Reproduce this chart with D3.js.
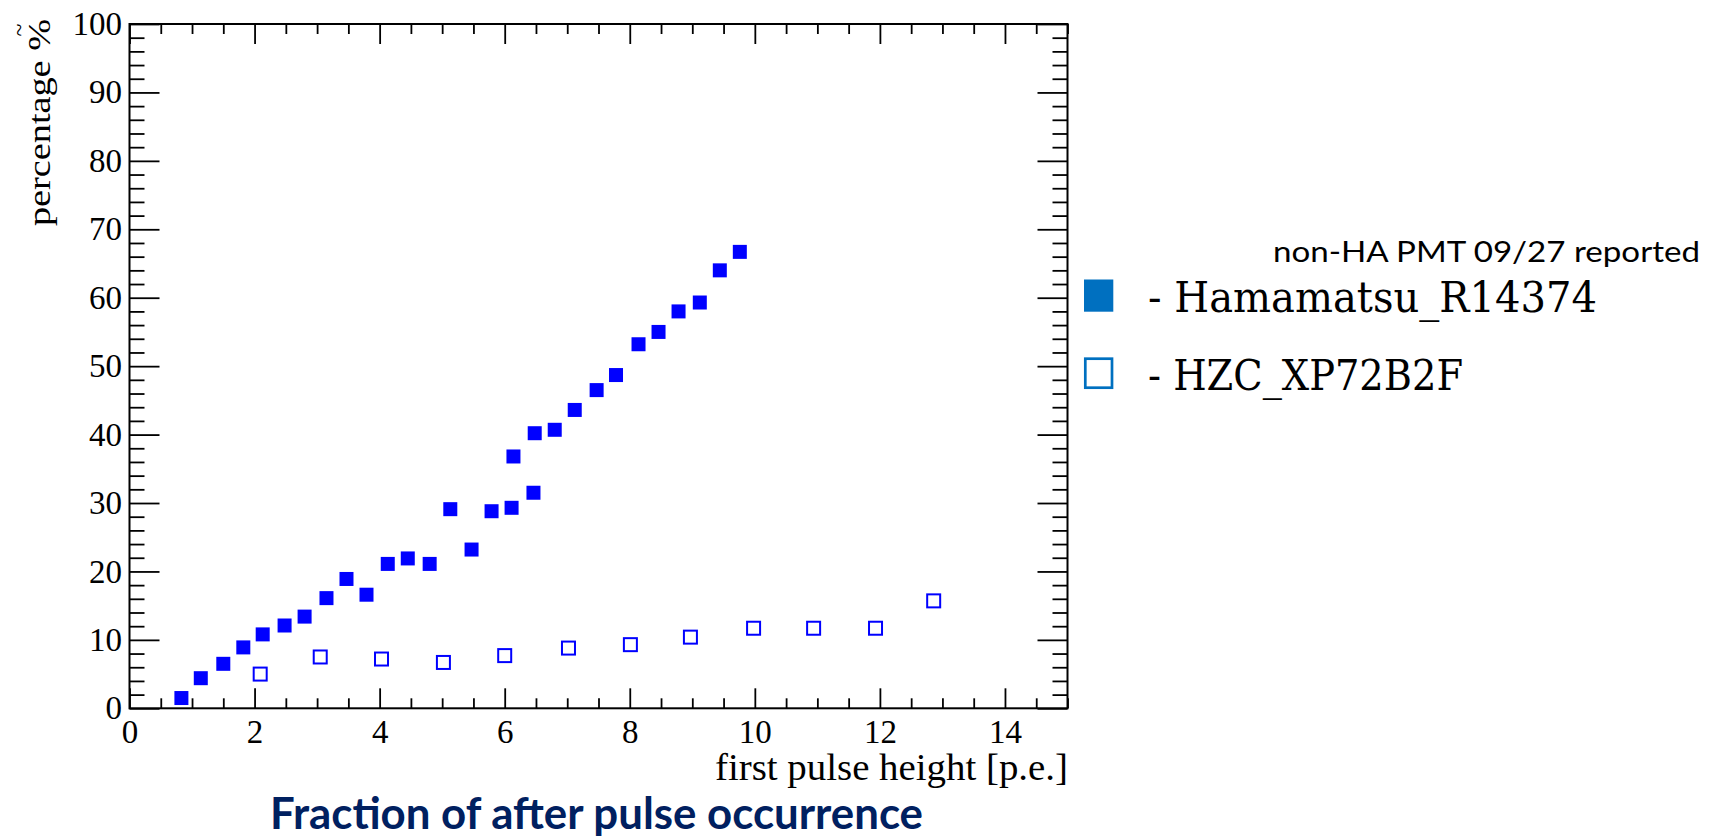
<!DOCTYPE html>
<html>
<head>
<meta charset="utf-8">
<script src="https://cdn.jsdelivr.net/npm/d3@7"></script>
<style>
  html, body { margin: 0; padding: 0; background: #ffffff; }
  svg { display: block; }
</style>
</head>
<body>
<svg id="chart" width="1712" height="839"></svg>
<script>
// ---------------- data ----------------
const hamamatsuX = [0.83,1.14,1.50,1.82,2.13,2.48,2.80,3.15,3.47,3.79,4.13,4.45,4.80,5.13,5.47,5.79,6.11,6.14,6.46,6.48,6.80,7.12,7.47,7.78,8.14,8.46,8.78,9.12,9.44,9.76];
const hamamatsuY = [1.5,4.4,6.5,8.9,10.8,12.1,13.4,16.1,18.9,16.6,21.1,21.9,21.1,29.1,23.2,28.8,29.3,36.8,31.5,40.2,40.7,43.6,46.5,48.7,53.2,55.0,58.0,59.3,64.0,66.7];
const hzcX = [2.09,3.05,4.03,5.02,6.00,7.02,8.01,8.97,9.98,10.94,11.93,12.86];
const hzcY = [5.0,7.5,7.2,6.7,7.7,8.8,9.3,10.4,11.7,11.7,11.7,15.7];

const xMajorTicks = [0,2,4,6,8,10,12,14];
const yMajorTicks = [0,10,20,30,40,50,60,70,80,90,100];
const xDomain = [0,15];
const yDomain = [0,100];

const seriesNames = ["- Hamamatsu_R14374", "- HZC_XP72B2F"];
const noteText = "non-HA PMT 09/27 reported";
const xTitle = "first pulse height [p.e.]";
const yTitle = "percentage %";
const yTitleAccent = "~";
const bottomTitle = "Fraction of after pulse occurrence";

// ---------------- layout ----------------
const svg = d3.select("#chart");
const plotL = 129.5, plotR = 1067.5, plotT = 24, plotB = 708.3;
const x = d3.scaleLinear().domain(xDomain).range([plotL, plotR]);
const y = d3.scaleLinear().domain(yDomain).range([plotB, plotT]);

const serif = "'Liberation Serif', 'Times New Roman', serif";
const ink = "#000";

// minor tick values (every 0.5 on x, every 2 on y)
const xMinor = d3.range(0, 15.001, 0.5).filter(v => Math.abs(v % 2) > 1e-6);
const yMinor = d3.range(0, 100.001, 2).filter(v => Math.abs(v % 10) > 1e-6);

function styleAxis(g) {
  g.select(".domain").remove();
  g.selectAll(".tick line").attr("stroke", ink).attr("stroke-width", 1.8);
  g.selectAll(".tick text").attr("fill", ink).style("font-family", serif).style("font-size", "33px");
}

// bottom axis (inward ticks)
svg.append("g").attr("transform", `translate(0,${plotB})`)
  .call(d3.axisBottom(x).tickValues(xMajorTicks).tickSize(-20).tickPadding(11).tickFormat(d3.format("d")))
  .call(styleAxis);
svg.append("g").attr("transform", `translate(0,${plotB})`)
  .call(d3.axisBottom(x).tickValues(xMinor).tickSize(-10).tickFormat(""))
  .call(styleAxis);
// top axis
svg.append("g").attr("transform", `translate(0,${plotT})`)
  .call(d3.axisTop(x).tickValues(xMajorTicks).tickSize(-20).tickFormat(""))
  .call(styleAxis);
svg.append("g").attr("transform", `translate(0,${plotT})`)
  .call(d3.axisTop(x).tickValues(xMinor).tickSize(-10).tickFormat(""))
  .call(styleAxis);
// left axis
svg.append("g").attr("transform", `translate(${plotL},0)`)
  .call(d3.axisLeft(y).tickValues(yMajorTicks).tickSize(-30).tickPadding(7.5).tickFormat(d3.format("d")))
  .call(styleAxis);
svg.append("g").attr("transform", `translate(${plotL},0)`)
  .call(d3.axisLeft(y).tickValues(yMinor).tickSize(-15).tickFormat(""))
  .call(styleAxis);
// right axis
svg.append("g").attr("transform", `translate(${plotR},0)`)
  .call(d3.axisRight(y).tickValues(yMajorTicks).tickSize(-30).tickFormat(""))
  .call(styleAxis);
svg.append("g").attr("transform", `translate(${plotR},0)`)
  .call(d3.axisRight(y).tickValues(yMinor).tickSize(-15).tickFormat(""))
  .call(styleAxis);

// frame
svg.append("rect")
  .attr("x", plotL).attr("y", plotT)
  .attr("width", plotR - plotL).attr("height", plotB - plotT)
  .attr("fill", "none").attr("stroke", ink).attr("stroke-width", 2);

// ---------------- markers ----------------
const hamData = hamamatsuX.map((v, i) => ({x: v, y: hamamatsuY[i]}));
const hzcData = hzcX.map((v, i) => ({x: v, y: hzcY[i]}));
const fs = 14;
svg.append("g").selectAll("rect").data(hamData).join("rect")
  .attr("x", d => x(d.x) - fs / 2).attr("y", d => y(d.y) - fs / 2)
  .attr("width", fs).attr("height", fs)
  .attr("fill", "#0000ff");
const hs = 13;
svg.append("g").selectAll("rect").data(hzcData).join("rect")
  .attr("x", d => x(d.x) - hs / 2).attr("y", d => y(d.y) - hs / 2)
  .attr("width", hs).attr("height", hs)
  .attr("fill", "none").attr("stroke", "#0000ff").attr("stroke-width", 2);

// ---------------- axis titles ----------------
svg.append("text")
  .attr("x", 1068).attr("y", 780)
  .attr("text-anchor", "end")
  .attr("textLength", 353).attr("lengthAdjust", "spacingAndGlyphs")
  .style("font-family", serif).style("font-size", "37px").attr("fill", ink)
  .text(xTitle);

svg.append("text")
  .attr("transform", "translate(50,226) rotate(-90)")
  .attr("text-anchor", "start")
  .attr("textLength", 207).attr("lengthAdjust", "spacingAndGlyphs")
  .style("font-family", serif).style("font-size", "31px").attr("fill", ink)
  .text(yTitle);
// small tilde accent above the % sign
svg.append("text")
  .attr("transform", "translate(27,30) rotate(-90)")
  .attr("text-anchor", "middle")
  .style("font-family", serif).style("font-size", "24px").attr("fill", ink)
  .text(yTitleAccent);

// ---------------- legend ----------------
svg.append("text")
  .attr("x", 1273).attr("y", 262)
  .attr("textLength", 427).attr("lengthAdjust", "spacingAndGlyphs")
  .style("font-family", "Lato, 'Open Sans', sans-serif").style("font-size", "28px").attr("fill", ink)
  .text(noteText);

const legendRows = [
  {name: seriesNames[0], filled: true, base: 312, len: 449},
  {name: seriesNames[1], filled: false, base: 390, len: 315}
];
const lg = svg.append("g").selectAll("g").data(legendRows).join("g");
lg.append("rect")
  .attr("x", d => d.filled ? 1084 : 1085.3)
  .attr("y", d => d.filled ? 279.5 : 358.7)
  .attr("width", d => d.filled ? 29.3 : 26.7)
  .attr("height", d => d.filled ? 32.2 : 29)
  .attr("fill", d => d.filled ? "#0070c0" : "#ffffff")
  .attr("stroke", d => d.filled ? "none" : "#0070c0")
  .attr("stroke-width", 2.7);
lg.append("text")
  .attr("x", 1148).attr("y", d => d.base)
  .attr("textLength", d => d.len).attr("lengthAdjust", "spacingAndGlyphs")
  .style("font-family", "'DejaVu Serif', serif").style("font-size", "43px").attr("fill", ink)
  .text(d => d.name);

// ---------------- bottom caption ----------------
svg.append("text")
  .attr("x", 270).attr("y", 829)
  .attr("textLength", 653).attr("lengthAdjust", "spacingAndGlyphs")
  .style("font-family", "Lato, 'Open Sans', sans-serif").style("font-weight", "bold").style("font-size", "43px")
  .attr("fill", "#002060")
  .text(bottomTitle);
</script>
</body>
</html>
